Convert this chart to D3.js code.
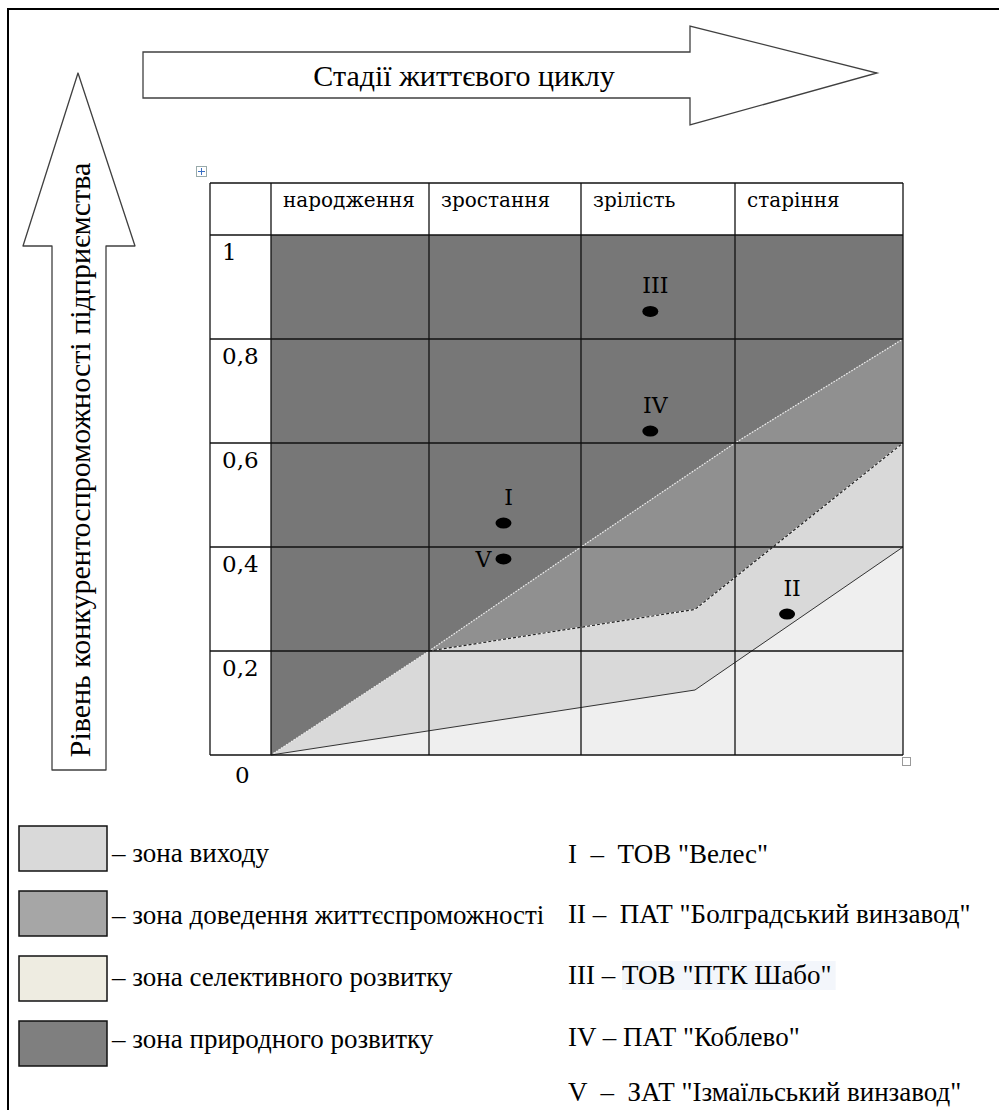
<!DOCTYPE html>
<html>
<head>
<meta charset="utf-8">
<title>Стадії життєвого циклу</title>
<script src="https://cdn.jsdelivr.net/npm/d3@7/dist/d3.min.js"></script>
<style>
body { margin:0; background:#fff; }
svg text { fill:#000; }
</style>
</head>
<body>
<svg id=mySVG width=999 height=1110></svg>
<script>
// ---- data ----
var stages = ["народження", "зростання", "зрілість", "старіння"]
var levelTicks = [1, 0.8, 0.6, 0.4, 0.2]
var levelLabels = ["1", "0,8", "0,6", "0,4", "0,2"]

// zone borders as [stage position, level]
var naturalEdge = [[0, 0], [1, 0.2], [2, 0.4], [3, 0.6], [4, 0.8]]
var viabilityEdge = [[1, 0.2], [2.74, 0.28], [4, 0.6]]
var exitEdge = [[0, 0], [2.74, 0.125], [4, 0.4]]

var firms = ["I", "II", "III", "IV", "V"]
var firmStage = [1.49, 3.31, 2.45, 2.45, 1.49]
var firmLevel = [0.446, 0.271, 0.853, 0.623, 0.377]
var firmNames = ['ТОВ "Велес"', 'ПАТ "Болградський винзавод"', 'ТОВ "ПТК Шабо"', 'ПАТ "Коблево"', 'ЗАТ "Ізмаїльський винзавод"']

var zoneNames = ["зона виходу", "зона доведення життєспроможності", "зона селективного розвитку", "зона природного розвитку"]
var zoneColors = ["#d9d9d9", "#a6a6a6", "#eeece1", "#7f7f7f"]

// ---- layout ----
var svg = d3.select("#mySVG")
var serif = "'Liberation Serif', 'Times New Roman', serif"
var tableFont = "'DejaVu Serif', serif"

var tableLeft = 210, headTop = 183
var x = d3.scaleLinear().domain([0, 1, 2, 3, 4]).range([271, 429, 581, 735, 903])
var y = d3.scaleLinear().domain([0, 1]).range([755, 235])

// page frame (top + left only visible)
svg.append("path")
  .attr("d", "M8,1110 L8,9 L999,9")
  .attr("fill", "none").attr("stroke", "#000").attr("stroke-width", 2)

// ---- arrows ----
svg.append("path")
  .attr("d", "M143,52 L690,52 L690,26 L877,73 L690,125 L690,98 L143,98 Z")
  .attr("fill", "#fff").attr("stroke", "#404040").attr("stroke-width", 1.3)
svg.append("text")
  .attr("x", 464).attr("y", 86)
  .attr("text-anchor", "middle")
  .attr("font-family", serif).attr("font-size", 30)
  .text("Стадії життєвого циклу")

svg.append("path")
  .attr("d", "M52,770 L52,246 L23,246 L78,73 L135,246 L106,246 L106,770 Z")
  .attr("fill", "#fff").attr("stroke", "#404040").attr("stroke-width", 1.3)
  .attr("stroke-linejoin", "round")
svg.append("text")
  .attr("transform", "translate(90,460) rotate(-90)")
  .attr("text-anchor", "middle")
  .attr("font-family", serif).attr("font-size", 30)
  .text("Рівень конкурентоспроможності підприємства")

// ---- zones ----
var line = d3.line().x(function(d) { return x(d[0]) }).y(function(d) { return y(d[1]) })

svg.append("rect")
  .attr("x", x(0)).attr("y", y(1))
  .attr("width", x(4) - x(0)).attr("height", y(0) - y(1))
  .attr("fill", "#efefef")

var exitZone = exitEdge.concat([[4, 0.6]], viabilityEdge.slice().reverse(), naturalEdge.slice(0, 1).reverse())
svg.append("path").attr("d", line(exitZone) + "Z").attr("fill", "#d9d9d9")

var viabilityZone = viabilityEdge.concat(naturalEdge.slice(1).reverse())
svg.append("path").attr("d", line(viabilityZone) + "Z").attr("fill", "#909090")

var naturalZone = naturalEdge.concat([[4, 1], [0, 1]])
svg.append("path").attr("d", line(naturalZone) + "Z").attr("fill", "#777777")

// zone borders
svg.append("path").attr("d", line(naturalEdge))
  .attr("fill", "none").attr("stroke", "#f0f0f0").attr("stroke-width", 1.2)
  .attr("stroke-dasharray", "1.5,1.5")
svg.append("path").attr("d", line(viabilityEdge))
  .attr("fill", "none").attr("stroke", "#f4f4f4").attr("stroke-width", 1.2)
svg.append("path").attr("d", line(viabilityEdge))
  .attr("fill", "none").attr("stroke", "#222").attr("stroke-width", 1.2)
  .attr("stroke-dasharray", "3,2")
svg.append("path").attr("d", line(exitEdge))
  .attr("fill", "none").attr("stroke", "#333").attr("stroke-width", 1)

// ---- table grid ----
var grid = svg.append("g").attr("stroke", "#111").attr("stroke-width", 1.3)
var colLines = [tableLeft].concat(d3.range(0, 5).map(function(i) { return x(i) }))
grid.selectAll("line.v").data(colLines).join("line")
  .attr("x1", function(d) { return d }).attr("x2", function(d) { return d })
  .attr("y1", headTop).attr("y2", y(0))
var rowLines = [headTop].concat(levelTicks.concat([0]).map(function(v) { return y(v) }))
grid.selectAll("line.h").data(rowLines).join("line")
  .attr("x1", tableLeft).attr("x2", x(4))
  .attr("y1", function(d) { return d }).attr("y2", function(d) { return d })

// header
svg.selectAll("text.stage").data(stages).join("text")
  .attr("x", function(d, i) { return x(i) + 12 })
  .attr("y", 207)
  .attr("font-family", tableFont).attr("font-size", 20)
  .text(function(d) { return d })

// level labels
svg.selectAll("text.level").data(levelTicks).join("text")
  .attr("x", 222)
  .attr("y", function(d) { return y(d) + 25 })
  .attr("font-family", tableFont).attr("font-size", 23)
  .text(function(d, i) { return levelLabels[i] })
svg.append("text").attr("x", 235).attr("y", 783)
  .attr("font-family", tableFont).attr("font-size", 23).text("0")

// word handles
svg.append("rect").attr("x", 196.5).attr("y", 166.5).attr("width", 10).attr("height", 10)
  .attr("fill", "#fff").attr("stroke", "#9aa").attr("stroke-width", 1)
svg.append("path").attr("d", "M201.5,168 L201.5,175 M198,171.5 L205,171.5")
  .attr("stroke", "#3a6fc4").attr("stroke-width", 1)
svg.append("rect").attr("x", 902.5).attr("y", 757.5).attr("width", 8).attr("height", 8)
  .attr("fill", "#fff").attr("stroke", "#999").attr("stroke-width", 1)

// ---- firms ----
var pts = svg.append("g")
pts.selectAll("ellipse").data(firms).join("ellipse")
  .attr("cx", function(d, i) { return x(firmStage[i]) })
  .attr("cy", function(d, i) { return y(firmLevel[i]) })
  .attr("rx", 8).attr("ry", 5.5)
  .attr("fill", "#000")
pts.selectAll("text").data(firms).join("text")
  .attr("x", function(d, i) { return d == "V" ? x(firmStage[i]) - 12 : x(firmStage[i]) + 5 })
  .attr("y", function(d, i) { return d == "V" ? y(firmLevel[i]) + 8 : y(firmLevel[i]) - 18 })
  .attr("text-anchor", function(d) { return d == "V" ? "end" : "middle" })
  .attr("font-family", tableFont).attr("font-size", 22)
  .text(function(d) { return d })

// ---- legend ----
var legend = svg.append("g")
legend.selectAll("rect").data(zoneNames).join("rect")
  .attr("x", 19).attr("y", function(d, i) { return 826 + i * 65 })
  .attr("width", 88).attr("height", 45)
  .attr("fill", function(d, i) { return zoneColors[i] })
  .attr("stroke", "#111").attr("stroke-width", 1.5)
legend.selectAll("text").data(zoneNames).join("text")
  .attr("x", 112).attr("y", function(d, i) { return 862 + i * 62 })
  .attr("font-family", serif).attr("font-size", 27)
  .text(function(d) { return "– " + d })

var firmY = [863, 923, 984, 1046, 1101]
var hl = svg.append("rect").attr("fill", "#f3f6fb")
var firmText = svg.selectAll("text.firm").data(firms).join("text")
  .attr("x", 568).attr("y", function(d, i) { return firmY[i] })
  .attr("font-family", serif).attr("font-size", 27)
  .attr("xml:space", "preserve")
firmText.append("tspan")
  .text(function(d) { return d + ((d == "I" || d == "V") ? "  –  " : (d == "II" ? " –  " : " – ")) })
firmText.append("tspan")
  .attr("class", function(d) { return "name" + d })
  .text(function(d, i) { return firmNames[i] })

// highlight behind the third name
var bb = svg.select("tspan.nameIII").node().getBBox()
hl.attr("x", bb.x).attr("y", bb.y + 1).attr("width", bb.width + 4).attr("height", bb.height - 1)
</script>
</body>
</html>
